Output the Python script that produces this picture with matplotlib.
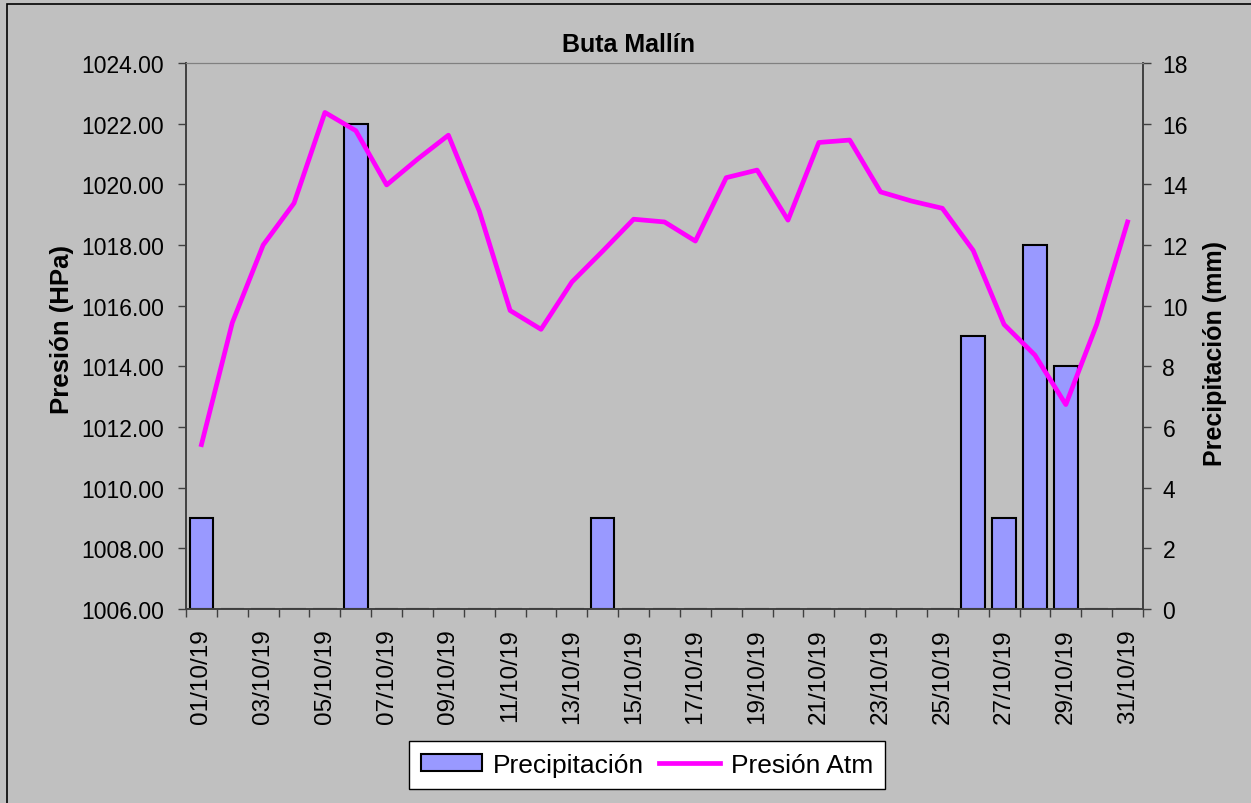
import numpy as np
import matplotlib.pyplot as plt
from matplotlib.patches import Rectangle
from matplotlib.lines import Line2D

plt.rcParams['font.family'] = ['Liberation Sans', 'DejaVu Sans']

days = [f'{d:02d}/10/19' for d in range(1, 32)]

presion = [1011.42, 1015.44, 1018.00, 1019.38, 1022.37, 1021.77, 1019.98, 1020.83,
           1021.62, 1019.12, 1015.84, 1015.22, 1016.78, 1017.80, 1018.85, 1018.76,
           1018.13, 1020.22, 1020.47, 1018.82, 1021.38, 1021.46, 1019.75, 1019.45,
           1019.21, 1017.82, 1015.38, 1014.37, 1012.74, 1015.38, 1018.76]

precip = [3, 0, 0, 0, 0, 16, 0, 0, 0, 0, 0, 0, 0, 3, 0, 0,
          0, 0, 0, 0, 0, 0, 0, 0, 0, 9, 3, 12, 8, 0, 0]

W, H = 1251, 804
fig = plt.figure(figsize=(W / 100, H / 100), dpi=100)
fig.patch.set_facecolor('#C0C0C0')

# chart border (left and top visible, rest cut off)
fig.add_artist(Rectangle((7 / W, -0.1), 1.2, 1.1 - 5 / H, transform=fig.transFigure,
                         fill=False, edgecolor='black', linewidth=1.2, clip_on=False))

ax = fig.add_axes([186 / W, 1 - 610 / H, (1143 - 186) / W, (610 - 64) / H])
ax2 = ax.twinx()
ax.set_zorder(ax2.get_zorder() + 1)
ax.patch.set_visible(False)
ax2.set_facecolor('white')

x = np.arange(len(days))
ax2.bar(x, precip, width=0.76, color='#9999FF', edgecolor='black', linewidth=1.5)
ax.plot(x, presion, color='#FF00FF', linewidth=3.4)

ax.set_xlim(-0.5, len(days) - 0.5)
ax.set_ylim(1006, 1024)
ax.set_yticks(np.arange(1006, 1024.1, 2))
ax.set_yticklabels([f'{v:.2f}' for v in np.arange(1006, 1024.1, 2)])
ax2.set_ylim(0, 18)
ax2.set_yticks(np.arange(0, 19, 2))

# tick marks at category boundaries, labels every other day
ax.set_xticks(np.arange(-0.5, len(days), 1))
ax.set_xticklabels([])
ax.set_xticks(x[::2], minor=True)
ax.set_xticklabels(days[::2], minor=True, rotation=90)
ax.tick_params(axis='x', which='minor', length=0, pad=14, labelsize=17.5)
ax.tick_params(axis='x', which='major', length=6, width=1, color='#404040')
ax.tick_params(axis='y', length=6, width=1, color='#404040', pad=10, labelsize=16.5)
ax2.tick_params(axis='y', length=6, width=1, color='#404040', pad=8, labelsize=16.5)

for a in (ax, ax2):
    for s in ('left', 'right', 'bottom'):
        a.spines[s].set_color('#404040')
        a.spines[s].set_linewidth(1.2)
    a.spines['top'].set_color('#808080')

fig.text(629 / W, 1 - 45 / H, 'Buta Mallín', ha='center', va='center',
         fontsize=18, fontweight='bold')
fig.text(62 / W, 1 - 330 / H, 'Presión (HPa)', ha='center', va='center',
         rotation=90, fontsize=18.5, fontweight='bold')
fig.text(1215 / W, 1 - 353 / H, 'Precipitación (mm)', ha='center', va='center',
         rotation=90, fontsize=18, fontweight='bold')

handles = [Rectangle((0, 0), 1, 1, facecolor='#9999FF', edgecolor='black', linewidth=1.5),
           Line2D([], [], color='#FF00FF', linewidth=3.4)]
leg = fig.legend(handles, ['Precipitación', 'Presión Atm'], loc='center',
                 bbox_to_anchor=(647 / W, 1 - 766 / H), ncol=2, fontsize=19,
                 frameon=True, fancybox=False, edgecolor='black', framealpha=1,
                 handlelength=2.3, handleheight=0.6, columnspacing=0.6,
                 handletextpad=0.4, borderpad=0.45)
leg.get_frame().set_linewidth(1)

fig.savefig('out.png', dpi=100, facecolor=fig.get_facecolor())
